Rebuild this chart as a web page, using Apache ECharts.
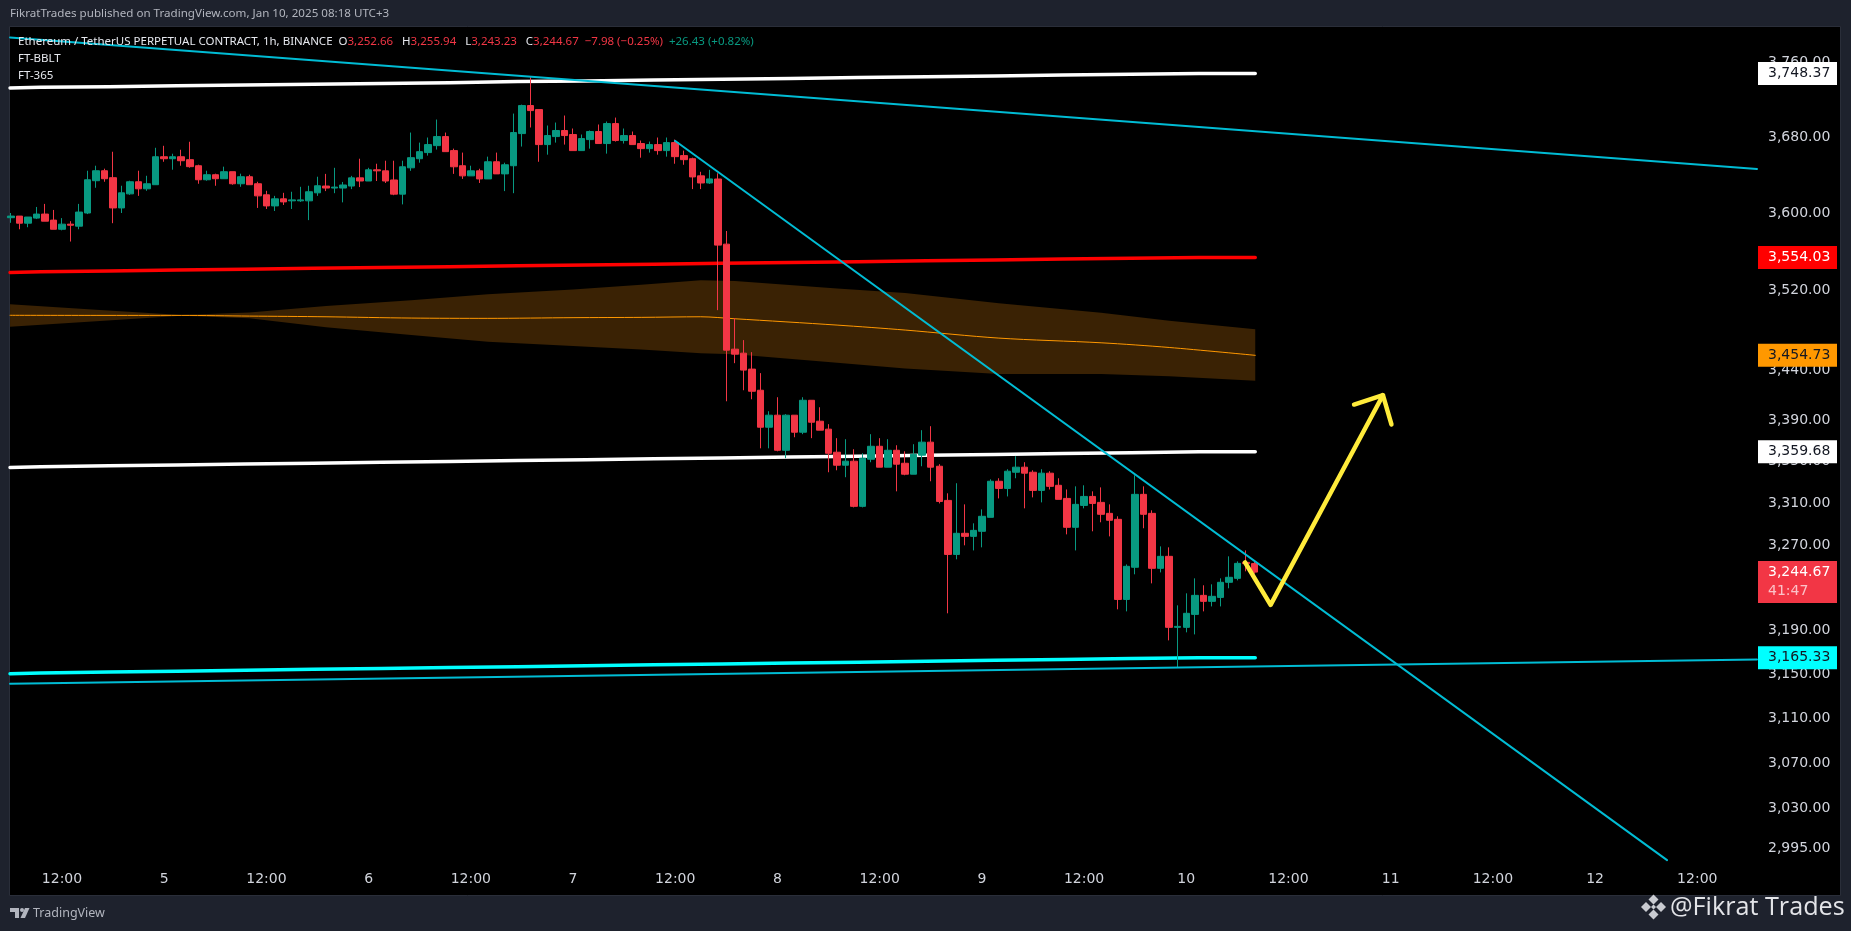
<!DOCTYPE html>
<html>
<head>
<meta charset="utf-8">
<style>html,body{margin:0;padding:0;background:#1e222d;}#c{width:1851px;height:931px;}</style>
<script src="https://cdn.jsdelivr.net/npm/echarts@6/dist/echarts.min.js"></script>
</head>
<body>
<div id="c"></div>
<script>
const firstHour = -6; // hours relative to Jan 4 12:00; each candle = 1h
const opens = [
3595.1,3596.8,3589.4,3594.7,3598.9,3592.6,3583.1,3588.4,3586.3,3600,3633.8,3644.3,3637,3605.3,3620,3632.7,3625.3,3629.6,3659.1,3657,
3659.1,3656,3649.6,3634.8,3640.1,3635.9,3643.3,3630.6,3638,3630.6,3619,3607.4,3614.8,3612.7,3612.7,3612.7,3621.1,
3628.2,3626.1,3626.1,3628.2,3636.8,3633.5,3645.3,3644.2,3634.6,3619.7,
3647.4,3657,3663.5,3670.9,3680.5,3665.6,3649.6,3638.9,3644.2,3635.7,
3653.8,3641,3649.6,3683.7,3713.7,3709.4,3672,3680.5,3687,3682.7,
3665.6,3677.3,3685.9,3673.1,3694.4,3676.3,3681.6,3673.1,3667.7,3672,
3665.6,3674.1,3660.3,3657,3638.9,3631.4,
3635.6,3567.7,3460.9,3456.9,3441,3420,3383.6,3395.4,3361.1,3395.4,
3378.7,3410.1,3389.5,3381.7,3359.2,3346.6,3350.5,3307,3352.4,3365,
3344.7,3361.1,3348.5,3337.9,3356.3,3369,3345.6,3312.7,3261.3,3281.3,
3278.4,3283.2,3296.5,3331.1,3324.2,3339.8,3344.7,3339.8,3322.3,3338.9,
3327.2,3314.6,3287,3307.9,3316.5,3310.8,3300.3,3294.6,3219.1,3249.2,
3318.5,3300.3,3248.2,3259.5,3193.2,3193.2,3205.2,3222.9,3217.3,3221,
3235.1,3238.8,3253.8,3252.66];
const closes = [
3596.8,3589.4,3595.8,3598.9,3591.5,3583.1,3588.4,3587.3,3601,3634.8,3644.3,3635.9,3605.3,3621.1,3632.7,3625.3,3630.6,3659.1,3657,3659.1,
3654.9,3648.6,3634.8,3640.1,3635.9,3643.3,3630.6,3638,3629.6,3617.9,3607.4,3614.8,3611.6,3613.7,3613.7,3622.2,3628.5,
3626.1,3627.1,3629.3,3636.8,3633.5,3645.3,3644.2,3633.5,3619.7,3648.5,
3658.1,3664.5,3672,3680.5,3664.5,3648.5,3638.9,3644.2,3635.7,3653.8,
3641,3650.6,3684.8,3713.7,3708.3,3672,3681.6,3687,3681.6,3665.6,
3678.4,3685.9,3673.1,3694.4,3676.3,3681.6,3672,3667.7,3672,3665.6,
3674.1,3659.2,3656,3637.8,3631.4,3635.7,
3566.7,3459.9,3455.9,3440,3419,3383.6,3395.4,3361.1,3395.4,3378.7,
3410.1,3388.5,3380.7,3358.2,3346.6,3350.5,3307,3353.4,3365,3344.7,
3361.1,3347.6,3337.9,3357.2,3369,3344.7,3311.7,3261.3,3281.3,3278.4,
3284.1,3297.5,3331.1,3324.2,3340.8,3344.7,3338.9,3322.3,3338.9,3326.2,
3313.7,3287,3308.9,3316.5,3309.8,3299.4,3293.7,3219.1,3250.1,3318.5,
3299.4,3248.2,3259.5,3193.2,3194.1,3206.2,3222.9,3217.3,3222,3235.1,
3239.8,3252.9,3252.66,3244.67];
const lows = [
3589.8,3583.1,3585.2,3593.7,3591.5,3583.1,3582,3570.4,3583.1,3598.9,3626.4,3632.7,3589.4,3600,3619,3617.9,3623.2,3629.6,3653.8,3645.4,
3649.6,3647.5,3630.6,3633.8,3628.5,3635.9,3629.6,3627.4,3629.6,3605.3,3604.2,3602.1,3608.4,3604.2,3611.6,3592.6,3617.9,
3622.9,3620.7,3611.1,3625,3627.1,3633.5,3633.5,3631.4,3618.6,3609,
3644.2,3652.8,3660.3,3666.7,3664.5,3641,3635.7,3638.9,3631.4,3635.7,
3641,3622.9,3620.7,3669.9,3690.2,3653.8,3661.3,3674.1,3672,3665.6,
3665.6,3667.7,3673.1,3662.4,3675.2,3673.1,3672,3658.1,3663.5,3661.3,
3659.2,3651.7,3650.6,3625,3625,3630.4,
3500.2,3409.1,3446.9,3420,3411.1,3363,3363,3360.1,3353.4,3373.8,
3376.8,3372.9,3380.7,3339.8,3341.7,3335,3306,3306,3349.5,3344.7,
3344.7,3321.4,3336.9,3337.9,3345.6,3331.1,3309.8,3206.2,3256.7,3269.9,
3265.1,3268,3296.5,3314.6,3316.5,3334,3305.1,3315.6,3310.8,3323.2,
3313.7,3280.3,3265.1,3305.1,3283.2,3291.8,3278.4,3209.9,3208,3242.6,
3286.1,3234.1,3244.4,3181.2,3156.3,3188.6,3186.7,3208,3212.6,3212.6,
3229.5,3236.9,3245.4,3243.23];
const highs = [
3600,3596.8,3595.8,3606.3,3609.5,3603.2,3594.7,3591.5,3609.5,3644.3,3649.6,3646.5,3664.4,3628.5,3633.8,3644.3,3639,3668.6,3670.7,3662.3,
3666.5,3675,3650.7,3644.3,3641.2,3648.6,3643.3,3641.2,3640.1,3632.7,3623.2,3617.9,3621.1,3622.2,3627.4,3628.5,3638,
3641,3647.4,3632.5,3638.9,3657,3647.4,3651.7,3654.9,3654.9,3654.9,
3684.8,3674.1,3679.5,3698.7,3684.8,3667.7,3663.5,3649.6,3646.4,3659.2,
3663.5,3652.8,3705.1,3714.7,3744.3,3709.4,3692.3,3695.5,3703,3689.1,
3682.7,3687,3693.4,3696.6,3700.8,3689.1,3685.9,3676.3,3675.2,3679.5,
3679.5,3677.3,3665.6,3658.1,3643.2,3645.3,
3641.6,3581.3,3492.2,3470,3457.9,3437,3399.3,3413.1,3396.4,3395.4,
3413.1,3410.1,3403.2,3386.6,3372.9,3371.9,3362.1,3358.2,3376.8,3372.9,
3371.9,3366,3360.1,3367,3380.7,3384.6,3347.6,3319.5,3329.2,3308.9,
3290.8,3304.1,3333,3334,3342.7,3355.3,3349.5,3341.7,3342.7,3340.8,
3334,3323.2,3326.2,3327.2,3321.4,3325.2,3308.9,3297.5,3251.9,3336.9,
3326.2,3303.2,3268.9,3268,3213.6,3224.8,3238.8,3232.3,3233.2,3238.8,
3259.5,3254.8,3265.1,3255.94];

const stepHours = [-6.1,-2.5,5.5,13.5,21.5,29.5,37.5,45.5,53.5,61.5,69.5,77.5,85.5,93.5,101.5,109.5,117.5,125.5,133.5,140.1];
const whiteUpper = [3732.6,3733.4,3734.1,3735,3735.9,3736.7,3737.5,3738.3,3739.6,3740.2,3741.2,3742,3743,3744,3744.8,3745.6,3746.6,3747.4,3748.37,3748.37];
const redLine = [3538.5,3539.3,3540.2,3541.1,3541.9,3542.8,3543.7,3544.5,3545.4,3546.2,3547.1,3548,3548.8,3549.7,3550.6,3551.4,3552.3,3553.2,3554.03,3554.03];
const whiteLower = [3344.4,3345.2,3346.1,3346.9,3347.8,3348.6,3349.4,3350.3,3351.1,3352,3352.8,3353.7,3354.5,3355.3,3356.2,3357,3357.9,3358.8,3359.68,3359.68];
const cyanLower = [3150.6,3151.4,3152.2,3153,3153.8,3154.7,3155.5,3156.3,3157.1,3157.9,3158.8,3159.6,3160.4,3161.2,3162,3162.9,3163.7,3164.5,3165.33,3165.33];

const bandHours = [-6.1,4,14,22,31,41,50,60,68,75,79,91,99,110,122,130,140.1];
const bandTop = [3506.3,3500.5,3495.2,3497.9,3504.3,3510.3,3516.4,3521.1,3526,3530.5,3529.8,3522.3,3517.5,3507.3,3497.5,3489.4,3480.8];
const bandMid = [3495,3494.9,3494.9,3494.2,3493.5,3492.2,3491.9,3492.6,3492.9,3493.5,3491.5,3485.1,3480.1,3472,3467.3,3462.6,3454.73];
const bandBottom = [3483.4,3489.1,3494.5,3491.9,3482.8,3475,3468.3,3464,3460.6,3456.9,3455.9,3447.3,3441.5,3436,3436,3434,3429.3];

const X_MIN = -6.105, X_MAX = 199.01;
const trendTopHours = [X_MIN,X_MAX];
const trendTopPrices = [3787.6,3646.1];
const trendDownHours = [71.97,188.45];
const trendDownPrices = [3676.1,2985.2];
const trendLowHours = [X_MIN,X_MAX];
const trendLowPrices = [3141.5,3163.7];

const arrowHours = [138.9,141.9,155.09];
const arrowPrices = [3253.8,3214,3415.1];
const arrowHeadHours = [151.7,155.09,156.09];
const arrowHeadPrices = [3405.9,3415.1,3386.3];

const timeTickHours = [0,12,24,36,48,60,72,84,96,108,120,132,144,156,168,180,192];
const timeTickLabels = ['12:00','5','12:00','6','12:00','7','12:00','8','12:00','9','12:00','10','12:00','11','12:00','12','12:00'];
const priceTicks = [3760,3680,3600,3520,3440,3390,3350,3310,3270,3190,3150,3110,3070,3030,2995];

const badgeValues = [3748.37,3554.03,3454.73,3359.68,3244.67,3165.33];
const badgeTexts = ['3,748.37','3,554.03','3,454.73','3,359.68','3,244.67','3,165.33'];
const badgeFills = ['#ffffff','#ff0000','#ff9800','#ffffff','#f23645','#00ffff'];
const badgeInks = ['#131722','#ffffff','#131722','#131722','#ffffff','#131722'];
const countdownText = '41:47';

const UP = '#089981', DOWN = '#f23645', AXIS_TEXT = '#d1d4dc';
const FONT = 'DejaVu Sans';
const zip = (a, b) => a.map((v, i) => [v, b[i]]);
const hours = opens.map((_, i) => firstHour + i);
const candleData = hours.map((h, i) => [h, opens[i], closes[i], lows[i], highs[i]]);

function lineSeries(name, xs, ys, color, width, z, step, smooth) {
  return { name, type: 'line', data: zip(xs, ys), showSymbol: false, symbol: 'none', step: step || false, smooth: smooth || false,
    lineStyle: { color, width, join: 'round', cap: 'round' }, z, silent: true, animation: false };
}

const chart = echarts.init(document.getElementById('c'), null, { renderer: 'canvas' });

function diamond(cx, cy, r) {
  return { type: 'polygon', z: 100, silent: true, shape: { points: [[cx, cy - r], [cx + r, cy], [cx, cy + r], [cx - r, cy]] }, style: { fill: '#c9cbd1' } };
}
const legendFont = '11.5px "Noto Sans"';
chart.setOption({
  animation: false,
  backgroundColor: '#1e222d',
  grid: { left: 10, top: 27, width: 1747, height: 868, containLabel: false },
  xAxis: {
    type: 'value', min: X_MIN, max: X_MAX, splitLine: { show: false }, axisLine: { show: false }, axisTick: { show: false },
    axisLabel: { inside: true, margin: 9, customValues: timeTickHours, color: AXIS_TEXT, fontFamily: FONT, fontSize: 14,
      formatter: v => timeTickLabels[timeTickHours.indexOf(Math.round(v))] || '' }
  },
  yAxis: {
    type: 'log', logBase: 10, min: 2955.2, max: 3799.1, position: 'right', splitLine: { show: false }, axisLine: { show: false }, axisTick: { show: false },
    axisLabel: { margin: 11, customValues: priceTicks, color: AXIS_TEXT, fontFamily: FONT, fontSize: 14,
      formatter: v => Math.round(v).toLocaleString('en-US', { minimumFractionDigits: 2, maximumFractionDigits: 2 }) }
  },
  graphic: { elements: [
    { type: 'rect', z: -10, silent: true, shape: { x: 9.5, y: 26.5, width: 1831, height: 869 }, style: { fill: '#000', stroke: '#2a2e39', lineWidth: 1 } },
    { type: 'text', z: 100, silent: true, x: 10, y: 14, style: { text: 'FikratTrades published on TradingView.com, Jan 10, 2025 08:18 UTC+3', font: '11.6px "Noto Sans"', fill: '#b2b5be', verticalAlign: 'middle' } },
    { type: 'text', z: 100, silent: true, x: 18, y: 42, style: {
      text: 'Ethereum / TetherUS PERPETUAL CONTRACT, 1h, BINANCE  {k|O}{r|3,252.66}   {k|H}{r|3,255.94}   {k|L}{r|3,243.23}   {k|C}{r|3,244.67}  {r|−7.98 (−0.25%)}  {g|+26.43 (+0.82%)}',
      font: legendFont, fill: '#e6e8ee', verticalAlign: 'middle',
      rich: { k: { fill: '#e6e8ee', font: legendFont }, r: { fill: DOWN, font: legendFont }, g: { fill: UP, font: legendFont } } } },
    { type: 'text', z: 100, silent: true, x: 18, y: 59, style: { text: 'FT-BBLT', font: legendFont, fill: '#e6e8ee', verticalAlign: 'middle' } },
    { type: 'text', z: 100, silent: true, x: 18, y: 76, style: { text: 'FT-365', font: legendFont, fill: '#e6e8ee', verticalAlign: 'middle' } },
    { type: 'polygon', z: 100, silent: true, shape: { points: [[10,908],[19,908],[19,918],[15,918],[15,912],[10,912]] }, style: { fill: '#b2b5be' } },
    { type: 'circle', z: 100, silent: true, shape: { cx: 22, cy: 910, r: 2 }, style: { fill: '#b2b5be' } },
    { type: 'polygon', z: 100, silent: true, shape: { points: [[25,908],[29.5,908],[25,918],[20.5,918]] }, style: { fill: '#b2b5be' } },
    { type: 'text', z: 100, silent: true, x: 33, y: 913, style: { text: 'TradingView', font: '12.5px "Noto Sans"', fill: '#b2b5be', verticalAlign: 'middle' } },
    diamond(1653.5, 899.5, 5), diamond(1653.5, 914.5, 5), diamond(1646, 907, 5), diamond(1661, 907, 5), diamond(1653.5, 907, 2.5),
    { type: 'text', z: 100, silent: true, x: 1670, y: 908, style: { text: '@Fikrat Trades', font: '25.2px "Open Sans"', fill: '#e3e4e8', verticalAlign: 'middle' } }
  ] },
  series: [
    { name: 'band', type: 'custom', z: 1, silent: true, animation: false, clip: true,
      data: bandHours.map((h, i) => [h, bandTop[i], bandBottom[i]]), encode: { x: 0, y: [1, 2] },
      renderItem(params, api) {
        if (params.dataIndex !== 0) return null;
        const up = bandHours.map((h, i) => api.coord([h, bandTop[i]]));
        const dn = bandHours.map((h, i) => api.coord([h, bandBottom[i]])).reverse();
        return { type: 'polygon', shape: { points: up.concat(dn) }, style: { fill: '#3a2204' } };
      } },
    lineSeries('FT-365 mid', bandHours, bandMid, '#ff9800', 1, 2, false, 0.3),
    lineSeries('upper', stepHours, whiteUpper, '#ffffff', 3.5, 2, 'start'),
    lineSeries('red', stepHours, redLine, '#ff0000', 3.5, 2, 'start'),
    lineSeries('lower', stepHours, whiteLower, '#ffffff', 3.5, 2, 'start'),
    lineSeries('cyan', stepHours, cyanLower, '#00ffff', 3.5, 2, 'start'),
    { name: 'ETHUSDT', type: 'candlestick', z: 3, silent: true, animation: false, barWidth: 7, data: candleData, encode: { x: 0, y: [1, 2, 3, 4] },
      itemStyle: { color: UP, color0: DOWN, borderColor: UP, borderColor0: DOWN, borderWidth: 1 } },
    lineSeries('trend top', trendTopHours, trendTopPrices, '#00bcd4', 2, 4),
    lineSeries('trend down', trendDownHours, trendDownPrices, '#00bcd4', 2, 4),
    lineSeries('trend low', trendLowHours, trendLowPrices, '#00bcd4', 2, 4),
    lineSeries('arrow', arrowHours, arrowPrices, '#ffeb3b', 4.5, 5),
    lineSeries('arrow head', arrowHeadHours, arrowHeadPrices, '#ffeb3b', 4.5, 5),
    { name: 'badges', type: 'custom', z: 6, silent: true, animation: false, clip: false,
      data: badgeValues.map((v, i) => [X_MAX, v, i]), encode: { x: 0, y: 1 },
      renderItem(params, api) {
        const i = params.dataIndex;
        const p = api.coord([api.value(0), api.value(1)]);
        const live = badgeTexts[i] === '3,244.67';
        const top = p[1] - 11.5 + (live ? 0.5 : 0);
        const children = [
          { type: 'rect', shape: { x: p[0] + 1, y: top, width: 79, height: live ? 42 : 23 }, style: { fill: badgeFills[i] } },
          { type: 'text', x: p[0] + 11, y: top + 11.5, style: { text: badgeTexts[i], fill: badgeInks[i], font: '14px "DejaVu Sans"', verticalAlign: 'middle' } }
        ];
        if (live) children.push({ type: 'text', x: p[0] + 11, y: top + 30, style: { text: countdownText, fill: '#fbc2c8', font: '14px "DejaVu Sans"', verticalAlign: 'middle' } });
        return { type: 'group', children };
      } }
  ]
});
</script>
</body>
</html>
